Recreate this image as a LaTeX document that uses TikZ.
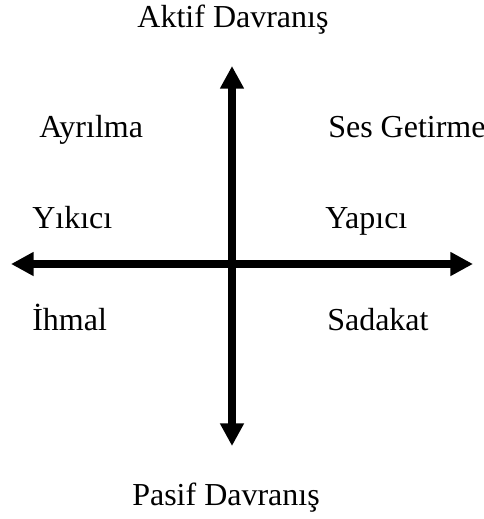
\documentclass[tikz,border=0pt]{standalone}
\usepackage{fontspec}
\setmainfont{Liberation Serif}
\usetikzlibrary{arrows.meta}

\begin{document}
\begin{tikzpicture}[
    x=0.75pt, y=-0.75pt,
    every node/.style={font=\fontsize{24}{28}\selectfont, inner sep=0pt},
    lab/.style={anchor=base west},
    axis/.style={line width=5.6pt, {Triangle[length=17pt, width=17pt]}-{Triangle[length=17pt, width=17pt]}},
]
\useasboundingbox (0,0) rectangle (484,519);

% ends of the two axes
\coordinate (west)  at (11, 264);
\coordinate (east)  at (473, 264);
\coordinate (north) at (232, 66);
\coordinate (south) at (232, 446);

\draw[axis] (west) -- (east);
\draw[axis] (south) -- (north);

% axis names
\node[anchor=base] (aktif) at (233, 27) {Aktif Davranış};
\node[lab] (pasif) at (132, 505) {Pasif Davranış};

% quadrant labels
\node[lab] (ayrilma) at (39, 137) {Ayrılma};
\node[lab] (ses)     at (328, 137) {Ses Getirme};
\node[lab] (yikici)  at (32, 228) {Yıkıcı};
\node[lab] (yapici)  at (325, 228) {Yapıcı};
\node[lab] (ihmal)   at (32, 330) {İhmal};
\node[lab] (sadakat) at (327, 330) {Sadakat};
\end{tikzpicture}
\end{document}
